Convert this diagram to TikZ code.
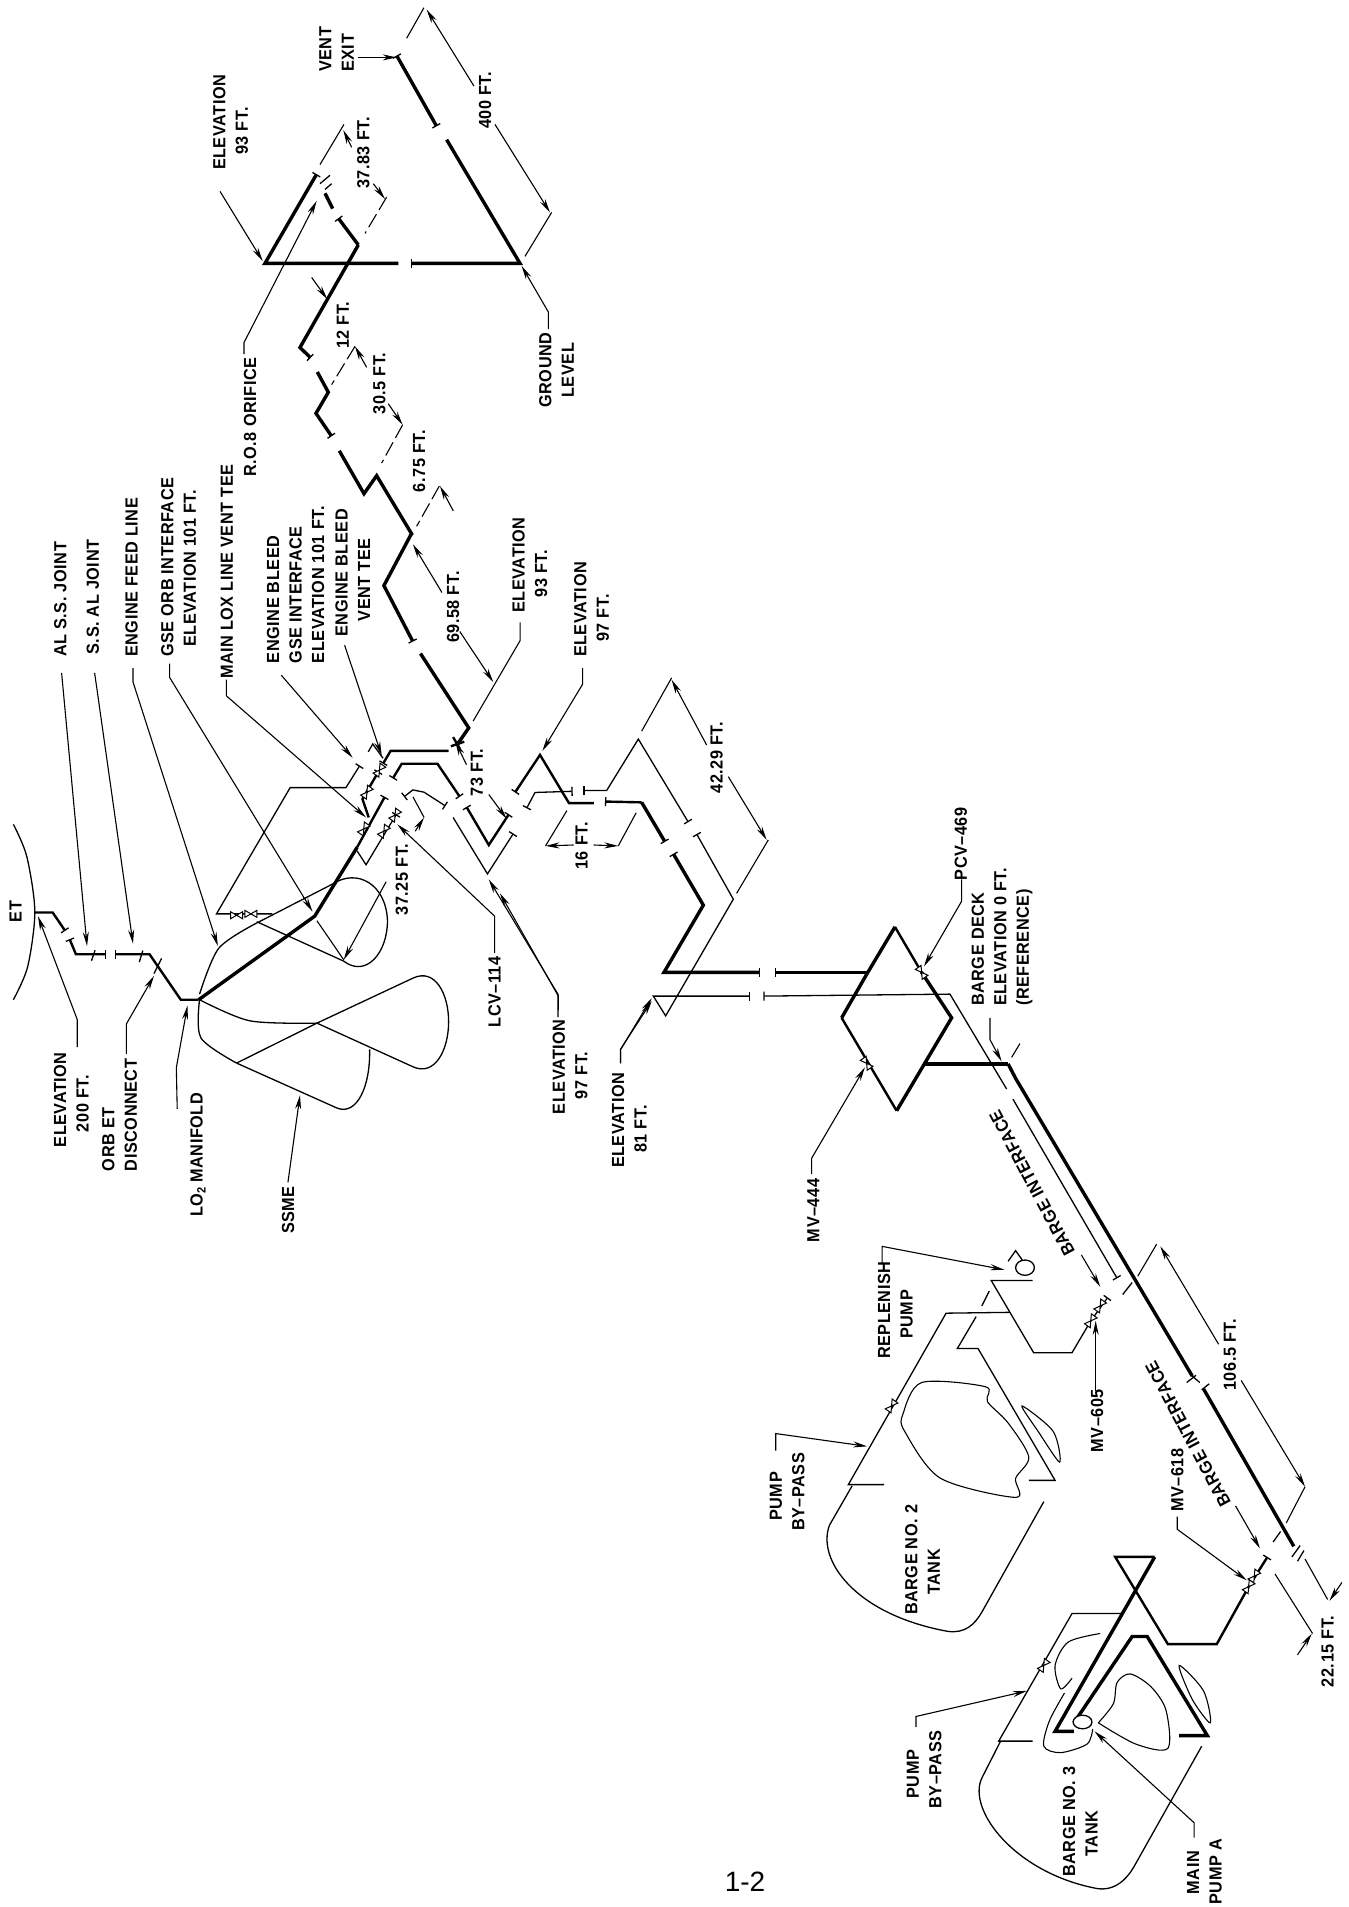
\documentclass[tikz,border=0pt]{standalone}
\usepackage{fontspec}
\setmainfont{Liberation Sans}[UprightFont={* Bold},BoldFont={* Bold},FakeStretch=0.93,LetterSpace=3]
\newfontfamily\pagefont{Liberation Sans}
\usetikzlibrary{arrows.meta}
\tikzset{
 zA/.style={shift={(0pt,-480pt)},x=0.4464pt,y=-0.4591pt},
 zB/.style={shift={(220pt,0pt)},x=0.3333pt,y=-0.3827pt},
 zC/.style={shift={(500pt,-660pt)},x=0.3333pt,y=-0.3954pt},
 zD/.style={shift={(760pt,-1240pt)},x=0.3759pt,y=-0.4254pt},
 pT/.style={line width=3.4pt,line join=miter},
 pM/.style={line width=2.4pt,line join=miter},
 thn/.style={line width=1.3pt,line join=miter},
 fine/.style={line width=1.1pt},
 lng/.style={fine,dash pattern=on 15pt off 5pt},
 tk/.style={-{Bar[width=9pt,line width=1.3pt]}},
 tkb/.style={{Bar[width=9pt,line width=1.3pt]}-{Bar[width=9pt,line width=1.3pt]}},
 tks/.style={{Bar[width=9pt,line width=1.3pt]}-},
 lead/.style={line width=1.1pt,-{Stealth[length=14pt,width=6pt]}},
 lab/.style={rotate=90,inner sep=0pt,align=left,font=\fontsize{17.5}{22.5}\selectfont},
 diag/.style={rotate=118,inner sep=0pt,font=\fontsize{17.5}{22.5}\selectfont},
 vlv/.pic={\draw[line width=1pt,fill=white] (-6pt,-3.5pt)--(6pt,3.5pt)--(6pt,-3.5pt)--(-6pt,3.5pt)--cycle;},
}
\begin{document}
\begin{tikzpicture}[x=1pt,y=-1pt]
\useasboundingbox (0,0) rectangle (1349,1907);
\fill[white] (0,0) rectangle (1349,1907);
%% ---------- region A: SSME and orbiter ----------
\begin{scope}[zA]
\draw[thn] plot[smooth] coordinates {(30,750)(60,820)(78,940)(62,1060)(30,1132)};
\draw[pM,tk] (78,942)--(118,942)--(146,982);
\draw[pM,tk] (445,1132)--(405,1132)--(335,1033)--(258,1033);
\draw[pM,tkb] (156,1000)--(170,1033)--(238,1033);
\draw[thn] (205,1047)--(213,1024) (312,1050)--(320,1025) (345,1075)--(362,1042);
% main line
\draw[pT] (445,1132)--(705,950)--(800,800);
\draw[pM,tk] (800,800)--(862,690);
\draw[pM,tkb] (1030,690)--(980,618)--(900,618)--(880,650);
\draw[pM,tkb] (1045,712)--(1095,795)--(1140,728);
\draw[pM,tk] (1005,590)--(875,590)--(858,618);
\draw[pM,tk] (826,735)--(812,695)--(848,635);
\draw[pT] (1025,575)--(1050,540)--(942,378);
\draw[pT,tks] (925,352)--(860,230)--(920,120);
\draw[pM] (1015,560)--(1030,585) (1010,580)--(1040,570);
% thin bleed lines
\draw[thn,tk] (610,945)--(485,945)--(650,670)--(775,670)--(806,622);
\draw[thn] (825,592)--(835,575)--(858,606);
\draw[thn,tk] (800,808)--(820,838)--(865,765)--(888,728);
\draw[thn,tkb] (905,690)--(925,675)--(950,680)--(998,710);
\draw[thn,tk] (1015,735)--(1092,858)--(1150,770);
\path (530,948) pic[rotate=0]{vlv} (562,945) pic[rotate=0]{vlv}
      (815,760) pic[rotate=55]{vlv} (822,680) pic[rotate=55]{vlv}
      (860,765) pic[rotate=55]{vlv} (885,730) pic[rotate=55]{vlv}
      (850,632) pic[rotate=55]{vlv};
% SSME
\draw[thn] plot[smooth] coordinates {(447,1120)(490,1020)(575,965)};
\draw[thn] (575,965)--(745,880) .. controls (800,845) and (865,880) .. (868,960) .. controls (868,1030) and (820,1085) .. (770,1048)--(575,962);
\draw[thn] plot[smooth] coordinates {(447,1132)(450,1215)(530,1270)};
\draw[thn] plot[smooth] coordinates {(447,1132)(560,1178)(710,1183)};
\draw[thn] (530,1270)--(710,1183)--(925,1278) .. controls (975,1300) and (1005,1240) .. (1005,1180) .. controls (1005,1120) and (975,1062) .. (925,1085)--(710,1183);
\draw[thn] (530,1270)--(755,1368) .. controls (800,1385) and (830,1320) .. (828,1240);
% leaders
\draw[lead] (138,420)--(195,1015);
\draw[lead] (212,420)--(298,1010);
\draw[lead] (298,410)--(298,440)--(488,1015);
\draw[lead] (380,400)--(380,430)--(700,940);
\draw[lead] (507,435)--(507,470)--(820,735);
\draw[lead] (630,425)--(790,605);
\draw[lead] (772,360)--(855,600);
\draw[fine] (1165,310)--(1165,350)--(1060,525);
\draw[lead] (1030,330)--(1105,440);
\draw[lead] (990,245)--(925,140);
\draw[lead] (1095,685)--(1135,738);
\draw[lead] (1045,620)--(1020,570);
\draw[lead] (865,875)--(770,1045);
\draw[fine] (710,960)--(770,1045);
\draw[fine] (925,690)--(950,735);
\draw[lead] (930,765)--(950,735);
\draw[lead] (1108,1030)--(1108,950)--(890,750);
\draw[lead] (1250,1170)--(1250,1120)--(1095,870);
\draw[lead] (1390,1270)--(1390,1240)--(1460,1135);
\draw[lead] (397,1370)--(395,1280)--(420,1145);
\draw[lead] (283,1250)--(283,1185)--(345,1080);
\draw[lead] (173,1235)--(173,1175)--(85,950);
\draw[lead] (645,1530)--(672,1340);
\draw[lead] (1305,410)--(1305,445)--(1215,590);
\draw[lead] (1285,795)--(1222,797);
\draw[lead] (1330,795)--(1385,797);
\draw[fine] (1222,797)--(1270,720) (1385,797)--(1425,725);
% labels
\node[lab] (et) at (35,940) {ET};
\node[lab] (e200) at (160,1350) {ELEVATION\\\ \ \ 200 FT.};
\node[lab] (orb) at (268,1383) {ORB ET\\DISCONNECT};
\node[lab] (alss) at (135,260) {AL S.S. JOINT};
\node[lab] (ssal) at (208,255) {S.S. AL JOINT};
\node[lab] (feed) at (295,212) {ENGINE FEED LINE};
\node[lab] (gse) at (400,190) {GSE ORB INTERFACE\\\ \ ELEVATION 101 FT.};
\node[lab] (lox) at (508,200) {MAIN LOX LINE VENT TEE};
\node[lab] (bleed) at (662,228) {ENGINE BLEED\\GSE INTERFACE\\ELEVATION 101 FT.};
\node[lab] (tee) at (790,202) {ENGINE BLEED\\\ \ \ VENT TEE};
\node[lab] (e93) at (1187,185) {ELEVATION\\\ \ \ 93 FT.};
\node[lab] (e97) at (1325,282) {ELEVATION\\\ \ \ 97 FT.};
\node[lab] (d3725) at (900,870) {37.25 FT.};
\node[lab] (d6958) at (1015,277) {69.58 FT.};
\node[lab] (d73) at (1068,637) {73 FT.};
\node[lab] (d16) at (1303,797) {16 FT.};
\node[lab] (lcv) at (1108,1115) {LCV--114};
\node[lab] (e97b) at (1277,1278) {ELEVATION\\\ \ \ 97 FT.};
\node[lab] (e81) at (1410,1395) {ELEVATION\\\ \ \ 81 FT.};
\end{scope}
%% ---------- region B: vent ----------
\begin{scope}[zB]
\draw[pT] (570,1400)--(575,1395)--(470,1243)--(432,1290)--(358,1178);
\draw[pT,tks] (335,1140)--(288,1080)--(325,1025)--(292,972);
\draw[pT,tk] (415,640)--(240,908)--(272,935);
\draw[pT,tk] (415,640)--(355,570);
\draw[pT] (338,545)--(315,505);
\draw[pT,tk] (535,688)--(135,688)--(290,455);
\draw[pT,tks] (572,688)--(900,688)--(680,365);
\draw[pT,tkb] (650,330)--(530,145);
\draw[thn] (300,480)--(330,458) (315,495)--(335,480);
\draw[lead] (413,150)--(530,150);
\draw[lead] (0,500)--(128,682);
\draw[lead] (72,925)--(72,895)--(290,525);
\draw[lead] (985,860)--(985,815)--(905,695);
\draw[lead] (762,225)--(620,25);
\draw[fine] (612,20)--(560,100);
\draw[lead] (825,325)--(990,555);
\draw[fine] (995,555)--(915,670);
\draw[lead] (395,385)--(370,340);
\draw[fine] (372,325)--(300,430);
\draw[lead] (460,480)--(495,520);
\draw[lng] (500,515)--(435,610);
\draw[lead] (275,725)--(322,782);
\draw[lng] (405,905)--(335,1005);
\draw[lead] (440,960)--(405,905);
\draw[lead] (505,1055)--(548,1110);
\draw[lng] (548,1110)--(485,1210);
\draw[lead] (700,1335)--(660,1270);
\draw[lng] (658,1270)--(590,1375);
\node[lab] (vent) at (350,142) {\ \ VENT\\\ \ EXIT};
\node[lab] (d400) at (795,262) {400 FT.};
\node[lab] (d3783) at (430,400) {37.83 FT.};
\node[lab] (e93t) at (32,320) {ELEVATION\\\ \ \ 93 FT.};
\node[lab] (ro) at (90,1090) {R.O.8 ORIFICE};
\node[lab] (d12) at (368,850) {12 FT.};
\node[lab] (d305) at (478,1002) {30.5 FT.};
\node[lab] (d675) at (597,1205) {6.75 FT.};
\node[lab] (gnd) at (1010,967) {GROUND\\\ \ LEVEL};
\end{scope}
%% ---------- region C: middle ----------
\begin{scope}[zC]
\draw[pM,tks] (45,335)--(120,240)--(207,362)--(282,362);
\draw[pM,tk] (425,360)--(315,358);
\draw[pT,tk] (425,360)--(495,460);
\draw[pT,tkb] (520,490)--(610,620)--(492,790)--(780,790);
\draw[pT,tk] (1105,790)--(825,790);
\draw[thn,tkb] (80,375)--(105,335)--(218,332);
\draw[thn,tkb] (250,330)--(320,330)--(415,200)--(565,410);
\draw[thn,tkb] (590,440)--(700,605)--(497,900)--(460,850)--(750,850);
\draw[thn,tks] (790,850)--(1350,845)--(1520,1085);
% valve diamond
\draw[pT] (1100,795)--(1185,675);
\draw[pM] (1185,675)--(1265,790);
\draw[pT] (1265,790)--(1355,905)--(1190,1140);
\draw[pT] (1100,795)--(1025,905);
\draw[pM] (1025,905)--(1190,1140);
\draw[pT] (1270,1022)--(1525,1022);
\path (1265,790) pic[rotate=-55]{vlv} (1100,1020) pic[rotate=-55]{vlv};
\draw[lead] (1385,555)--(1385,610)--(1272,775);
\draw[lead] (935,1300)--(935,1260)--(1095,1030);
\draw[lead] (1470,905)--(1470,960)--(1505,1015);
\draw[fine] (1560,970)--(1535,1005);
\draw[lead] (175,885)--(175,850)--(0,590);
\draw[lead] (362,1020)--(362,985)--(455,855);
\draw[lead] (620,215)--(515,50);
\draw[fine] (515,45)--(425,180);
\draw[lead] (685,295)--(800,455);
\draw[fine] (805,455)--(710,590);
\node[lab] (d4229) at (650,247) {42.29 FT.};
\node[lab] (pcv) at (1383,465) {PCV--469};
\node[lab] (mv444) at (940,1392) {MV--444};
\end{scope}
\node[lab] (deck) at (1002,937) {BARGE DECK\\ELEVATION 0 FT.\\(REFERENCE)};
\node[diag] (bi1) at (1032,1183) {BARGE INTERFACE};
\node[diag] (bi2) at (1188,1434) {BARGE INTERFACE};
\node[inner sep=0pt,font=\pagefont\fontsize{28}{28}\selectfont] (pg) at (745,1882) {1-2};
%% ---------- region D: barges ----------
\begin{scope}[zD]
\draw[thn,tk] (673,-331)--(950,90);
\draw[pT] (660,-414)--(680,-380)--(1150,320);
\draw[pT] (1180,350)--(1420,720);
\draw[thn] (1150,320)--(1170,335) (1135,335)--(1160,318) (1175,352)--(1195,338);
\draw[thn] (965,128)--(990,100) (1365,710)--(1385,685) (1415,745)--(1437,718) (1430,755)--(1447,730);
% barge 2 piping
\draw[thn,tks] (925,135)--(880,190)--(830,265)--(728,265)--(615,95)--(725,95);
\draw[thn] (665,170)--(495,172)--(235,575)--(330,575);
\draw[thn] (610,120)--(590,155) (575,180)--(525,255)--(580,255)--(785,565)--(715,565);
\path (905,155) pic[rotate=55]{vlv} (880,190) pic[rotate=55]{vlv} (350,390) pic[rotate=55]{vlv};
\draw[thn] (660,50)--(680,25)--(700,50);
\draw[thn,fill=white] (705,65) ellipse (25 and 18);
% barge 2 tank
\draw[thn] (245,578)--(185,670) .. controls (150,750) and (250,880) .. (500,920) .. controls (545,925) and (570,905) .. (590,875)--(755,615);
\draw[fine] plot[smooth cycle] coordinates {(380,410)(430,335)(600,345)(605,380)(660,430)(715,510)(680,560)(680,605)(480,560)(385,450)};
\draw[fine] plot[smooth cycle] coordinates {(697,390)(780,450)(797,522)(740,450)};
% barge 3 piping
\draw[pM,tks] (1350,745)--(1300,815);
\draw[pM] (1300,815)--(1215,950)--(1085,950)--(945,745)--(1050,745);
\draw[pT] (1050,745)--(785,1155)--(835,1155);
\draw[pT] (835,1135)--(990,932)--(1030,932)--(1190,1165)--(1115,1165);
\draw[thn] (965,878)--(830,878)--(635,1178)--(725,1178);
\path (1315,790) pic[rotate=55]{vlv} (1300,815) pic[rotate=55]{vlv} (755,1000) pic[rotate=55]{vlv};
% barge 3 tank
\draw[thn] (640,1178)--(590,1265) .. controls (550,1340) and (680,1490) .. (900,1525) .. controls (955,1530) and (985,1490) .. (1000,1465)--(1175,1190);
\draw[fine] plot[smooth] coordinates {(905,925)(820,945)(785,1000)(800,1055)(830,1030)};
\draw[fine] plot[smooth] coordinates {(810,1065)(770,1130)(755,1190)(800,1205)(870,1185)(885,1150)};
\draw[fine] plot[smooth] coordinates {(900,1135)(1000,1185)(1085,1195)(1080,1105)(1040,1050)(985,1020)(950,1040)(940,1090)(900,1135)};
\draw[fine] plot[smooth cycle] coordinates {(1115,1000)(1180,1060)(1198,1135)(1150,1080)};
\draw[thn,fill=white] (858,1133) ellipse (25 and 16);
% leaders
\draw[lead] (325,55)--(325,15)--(650,70);
\draw[lead] (893,355)--(893,190);
\draw[lead] (855,35)--(905,110);
\draw[lead] (42,495)--(42,455)--(285,485);
\draw[lead] (1220,245)--(1065,15);
\draw[fine] (1055,10)--(1005,85);
\draw[lead] (1280,330)--(1450,580);
\draw[fine] (1450,580)--(1400,665);
\draw[lead] (1265,625)--(1330,725);
\draw[lead] (1110,650)--(1110,680)--(1295,800);
\draw[fine] (1450,750)--(1510,845);
\draw[lead] (1548,805)--(1515,848);
\draw[fine] (1370,785)--(1470,925);
\draw[lead] (1430,975)--(1468,925);
\draw[lead] (415,1145)--(415,1120)--(710,1060);
\draw[lead] (1155,1405)--(1155,1370)--(890,1155);
% labels
\node[lab] (rep) at (360,165) {REPLENISH\\\ \ \ \ PUMP};
\node[lab] (mv605) at (897,425) {MV--605};
\node[lab] (byp2) at (72,592) {\ \ PUMP\\BY--PASS};
\node[lab] (b2) at (432,752) {BARGE NO. 2\\\ \ \ \ TANK};
\node[lab] (d1065) at (1250,270) {106.5 FT.};
\node[lab] (mv618) at (1110,565) {MV--618};
\node[lab] (d2215) at (1510,967) {22.15 FT.};
\node[lab] (byp3) at (437,1245) {\ \ PUMP\\BY--PASS};
\node[lab] (b3) at (852,1367) {BARGE NO. 3\\\ \ \ \ TANK};
\node[lab] (mp) at (1182,1485) {\ \ MAIN\\PUMP A};
\end{scope}
%% LO2 manifold and SSME labels (full-image positions)
\node[lab] (lo2) at (198,1155) {LO\lower3pt\hbox{\fontsize{12}{12}\selectfont 2} MANIFOLD};
\node[lab] (ssme) at (288,1210) {SSME};
\end{tikzpicture}
\end{document}
